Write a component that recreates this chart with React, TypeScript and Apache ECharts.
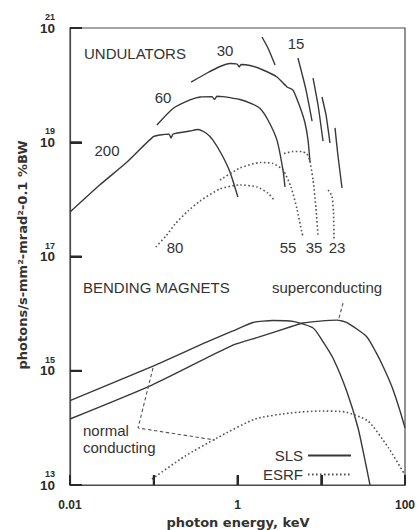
import React, { useEffect, useRef } from 'react';
import * as echarts from 'echarts';

// ---------- data (photon energy keV, brightness) ----------
const xTickLabels: Record<string, string> = { '-2': '0.01', '0': '1', '2': '100' };
const yTickExponents = [13, 15, 17, 19, 21];
const xInnerTicks = [0.1, 1, 10];
const yInnerTicks = [1e15, 1e17, 1e19];
const xAxisTitle = 'photon energy, keV';
const yAxisTitle = 'photons/s-mm²-mrad²-0.1 %BW';

// SLS undulators (solid)
const sls200 = [
  [0.01, 6.0e17], [0.0228, 1.8e18], [0.048, 4.5e18], [0.098, 1.24e19], [0.119, 1.34e19],
  [0.152, 1.39e19], [0.161, 1.19e19], [0.17, 1.39e19], [0.271, 1.57e19], [0.337, 1.67e19],
  [0.421, 1.45e19], [0.509, 1.09e19], [0.653, 5.98e18], [0.813, 3.01e18], [1.01, 1.1e18],
];
const sls60 = [
  [0.109, 2.0e19], [0.17, 3.9e19], [0.271, 5.5e19], [0.357, 6.2e19], [0.496, 6.3e19],
  [0.53, 5.6e19], [0.569, 6.4e19], [0.671, 6.3e19], [1.07, 5.6e19], [1.49, 4.7e19],
  [1.86, 3.9e19], [2.31, 2.45e19], [2.96, 1.09e19], [3.49, 3.27e18], [3.69, 1.65e18],
];
const sls30 = [
  [0.279, 1.13e20], [0.433, 1.63e20], [0.618, 2.12e20], [0.813, 2.39e20], [0.986, 2.34e20],
  [1.05, 2.08e20], [1.1, 2.3e20], [1.41, 2.21e20], [2.02, 1.84e20], [2.96, 1.39e20],
  [3.9, 9.3e19], [4.6, 8.2e19], [5.57, 4.14e19], [6.4, 2.17e19], [6.95, 1.09e19], [7.34, 4.5e18],
];
const sls15Parts = [
  [[1.96, 6.96e20], [2.31, 4.47e20], [2.81, 2.25e20]],
  [[5.27, 2.98e20], [6.58, 8.2e19], [7.77, 2.35e19]],
  [[7.98, 1.33e20], [9.15, 4.49e19], [10.5, 1.05e19]],
  [[10.2, 6.2e19], [11.4, 3.0e19], [12.7, 9.7e18]],
  [[14.6, 1.78e19], [15.8, 5.98e18], [17.7, 1.58e18]],
];

// ESRF undulators (dotted)
const esrf80 = [
  [0.106, 1.47e17], [0.14, 2.29e17], [0.18, 3.71e17], [0.256, 6.26e17], [0.357, 9.37e17],
  [0.618, 1.52e18], [1.07, 1.79e18], [1.71, 1.65e18], [2.31, 1.29e18], [2.73, 9.75e17],
];
const esrf55 = [
  [0.618, 2.18e18], [1.07, 3.54e18], [1.86, 4.42e18], [2.65, 4.25e18], [3.49, 3.27e18],
  [4.35, 1.65e18], [5.13, 6.79e17], [5.89, 2.58e17], [6.05, 2.29e17],
];
const esrf35 = [
  [3.59, 6.35e18], [4.6, 6.89e18], [5.89, 6.89e18], [6.76, 6.23e18], [7.34, 4.51e18],
  [7.98, 2.18e18], [8.65, 7.07e17], [9.15, 2.29e17],
];
const esrf23 = [[12.05, 1.46e18], [13.4, 1.15e18], [14.0, 6.0e17], [14.2, 1.95e17]];

// Bending magnets
const slsBendNormal = [
  [0.01, 3.0e14], [0.098, 1.21e15], [0.433, 3.2e15], [0.88, 4.97e15], [1.53, 7.0e15],
  [2.65, 7.6e15], [4.6, 7.3e15], [8.0, 5.6e15], [10.2, 3.45e15], [13.8, 1.67e15],
  [20.3, 4.25e14], [27.5, 9.95e13], [34.2, 2.24e13], [38.2, 1.0e13],
];
const slsBendSuper = [
  [0.01, 1.43e14], [0.095, 5.6e14], [0.88, 2.8e15], [1.86, 3.95e15], [4.6, 6.07e15],
  [6.05, 6.85e15], [9.66, 7.4e15], [15.4, 7.7e15], [20.3, 6.93e15], [34.9, 3.95e15],
  [45.9, 2.0e15], [54.6, 1.2e15], [70, 5.2e14], [87.1, 2.0e14], [100, 1.0e14],
];
const esrfBend = [
  [0.095, 1.27e13], [0.236, 3.2e13], [0.569, 6.65e13], [1.62, 1.43e14], [4.24, 1.82e14],
  [9.66, 1.97e14], [19.2, 1.9e14], [36.1, 1.32e14], [62.7, 4.6e13], [100, 1.5e13],
];

// label leader lines
const leaderSuper = [[18.2, 1.53e16], [16.3, 8.4e15]];
const leaderNormal = [[0.098, 1.12e15], [0.0649, 9.95e13], [0.539, 6.13e13]];

// ---------- chart ----------
const FONT = '"Liberation Sans", Arial, Helvetica, sans-serif';
const WIDE_BOLD = '"DejaVu Sans", "Liberation Sans", sans-serif';
const INK = '#2b2b2b';
const AXIS = '#4a4a4a';
const X_MIN = -2;
const Y_MIN = 13;
const X_TICK_LEN = 0.17; // in decades (~10 px)
const Y_TICK_LEN = 0.14; // in decades (~12 px)

const toLog = (pts: number[][]) => pts.map(([x, y]) => [Math.log10(x), Math.log10(y)]);

function curve(name: string, pts: number[][], kind: 'solid' | 'dotted' | 'leader') {
  const lineStyle =
    kind === 'solid'
      ? { color: '#383838', width: 1.4, type: 'solid' }
      : kind === 'dotted'
      ? { color: '#555555', width: 1.6, type: [1.6, 2.4] }
      : { color: '#555555', width: 1.1, type: [3.5, 2.5] };
  return {
    type: 'line',
    name,
    data: toLog(pts),
    symbol: 'none',
    showSymbol: false,
    smooth: kind === 'leader' ? false : 0.2,
    lineStyle,
    itemStyle: { color: lineStyle.color },
    silent: true,
  };
}

function tickSeg(data: number[][]) {
  return {
    type: 'line',
    name: 'axis-tick',
    data,
    symbol: 'none',
    showSymbol: false,
    silent: true,
    clip: false,
    lineStyle: { color: '#2a2a2a', width: 2, type: 'solid' },
    itemStyle: { color: '#2a2a2a' },
    z: 6,
  };
}

function txt(text: string, x: number, y: number, align: string = 'left', font: string = `15px ${FONT}`, rotation = 0) {
  return {
    type: 'text',
    x,
    y,
    rotation,
    silent: true,
    style: {
      text,
      font,
      fill: '#333',
      align,
      textAlign: align,
      verticalAlign: 'middle',
      textVerticalAlign: 'middle',
    },
  };
}

export default function App() {
  const ref = useRef<HTMLDivElement>(null);

  useEffect(() => {
    if (!ref.current) return;
    const chart = echarts.init(ref.current, undefined, { renderer: 'svg' });

    const series: any[] = [
      curve('SLS', sls200, 'solid'),
      curve('SLS', sls60, 'solid'),
      curve('SLS', sls30, 'solid'),
      ...sls15Parts.map((p) => curve('SLS', p, 'solid')),
      curve('SLS', slsBendNormal, 'solid'),
      curve('SLS', slsBendSuper, 'solid'),
      curve('ESRF', esrf80, 'dotted'),
      curve('ESRF', esrf55, 'dotted'),
      curve('ESRF', esrf35, 'dotted'),
      curve('ESRF', esrf23, 'dotted'),
      curve('ESRF', esrfBend, 'dotted'),
      curve('leader-super', leaderSuper, 'leader'),
      curve('leader-normal', leaderNormal, 'leader'),
      ...xInnerTicks.map((v) => {
        const lx = Math.log10(v);
        return tickSeg([[lx, Y_MIN], [lx, Y_MIN + X_TICK_LEN]]);
      }),
      ...yInnerTicks.map((v) => {
        const ly = Math.log10(v);
        return tickSeg([[X_MIN, ly], [X_MIN + Y_TICK_LEN, ly]]);
      }),
    ];

    chart.setOption({
      animation: false,
      backgroundColor: '#ffffff',
      grid: {
        left: 70,
        right: 15,
        top: 28,
        bottom: 45,
        show: true,
        borderColor: AXIS,
        borderWidth: 1.2,
      },
      legend: {
        data: ['SLS', 'ESRF'],
        orient: 'vertical',
        left: 258,
        top: 443,
        align: 'right',
        itemWidth: 43,
        itemHeight: 10,
        itemGap: 4,
        selectedMode: false,
        itemStyle: { opacity: 0 },
        textStyle: { fontFamily: FONT, fontSize: 15, color: '#333', width: 40 },
      },
      xAxis: {
        type: 'value',
        min: X_MIN,
        max: 2,
        interval: 1,
        axisLine: { show: true, onZero: false, lineStyle: { color: AXIS, width: 1.2 } },
        axisTick: { show: true, inside: true, length: 10, lineStyle: { color: '#2a2a2a', width: 2 } },
        splitLine: { show: false },
        axisLabel: {
          formatter: (v: number) => xTickLabels[String(Math.round(v))] ?? '',
          margin: 14,
          fontFamily: FONT,
          fontWeight: 'bold',
          fontSize: 12,
          color: INK,
        },
      },
      yAxis: {
        type: 'value',
        min: Y_MIN,
        max: yTickExponents[yTickExponents.length - 1],
        interval: 2,
        axisLine: { show: true, onZero: false, lineStyle: { color: AXIS, width: 1.2 } },
        axisTick: { show: true, inside: true, length: 12, lineStyle: { color: '#2a2a2a', width: 2 } },
        splitLine: { show: false },
        axisLabel: {
          formatter: (v: number) => `{e|${Math.round(v)}}\n{b|10}`,
          margin: 15,
          align: 'right',
          padding: [0, 0, 9, 0],
          rich: {
            e: { fontFamily: FONT, fontWeight: 'bold', fontSize: 9, lineHeight: 9, color: INK, align: 'right' },
            b: { fontFamily: FONT, fontWeight: 'bold', fontSize: 13.5, lineHeight: 13, color: INK, align: 'right' },
          },
        },
      },
      graphic: [
        txt('UNDULATORS', 84, 53),
        txt('30', 225, 50, 'center'),
        txt('15', 296, 43, 'center'),
        txt('60', 163, 97, 'center'),
        txt('200', 107, 150, 'center'),
        txt('80', 175, 247, 'center'),
        txt('55', 288, 247, 'center'),
        txt('35', 314, 247, 'center'),
        txt('23', 337, 247, 'center'),
        txt('BENDING MAGNETS', 83, 287),
        txt('superconducting', 272, 287),
        txt('normal', 83, 430),
        txt('conducting', 83, 447),
        txt(xAxisTitle, 238, 522, 'center', `bold 13px ${WIDE_BOLD}`),
        txt(yAxisTitle, 22, 255, 'center', `bold 13px ${WIDE_BOLD}`, Math.PI / 2),
      ],
      series,
    });

    return () => chart.dispose();
  }, []);

  return (
    <div
      ref={ref}
      style={{ position: 'absolute', left: 0, top: 0, width: 420, height: 530, background: '#fff' }}
    />
  );
}
